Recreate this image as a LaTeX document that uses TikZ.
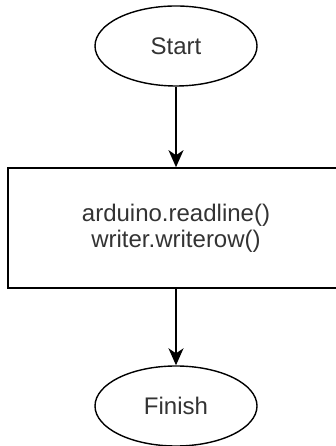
\documentclass[tikz,border=0pt]{standalone}
\usepackage{fontspec}
\setmainfont{Liberation Sans}
\usetikzlibrary{shapes.geometric, arrows.meta}

\begin{document}
\begin{tikzpicture}[x=1pt, y=1pt,
        terminal/.style={ellipse, draw, line width=1.4pt, inner sep=0pt,
            minimum width=162pt, minimum height=80pt, text=black!80,
            font=\fontsize{24}{26}\selectfont},
        process/.style={rectangle, draw, line width=1.6pt, inner sep=0pt,
            minimum width=336pt, minimum height=120pt, align=center,
            text=black!80, font=\fontsize{24}{26}\selectfont},
        flow/.style={line width=1.6pt, -{Stealth[length=17pt, width=15pt, inset=5pt]}}]

        % ==== FRAME ====
        \path[use as bounding box, clip] (0,0) rectangle (336,446);

        % ==== NODES ====
        \node[terminal] (start) at (176,400) {Start};
        \node[process] (body) at (176,218) {arduino.readline()\\writer.writerow()};
        \node[terminal] (finish) at (176,40) {Finish};

        % ==== ARROWS ====
        \draw[flow] (start) -- (body);
        \draw[flow] (body) -- (finish);

\end{tikzpicture}
\end{document}
